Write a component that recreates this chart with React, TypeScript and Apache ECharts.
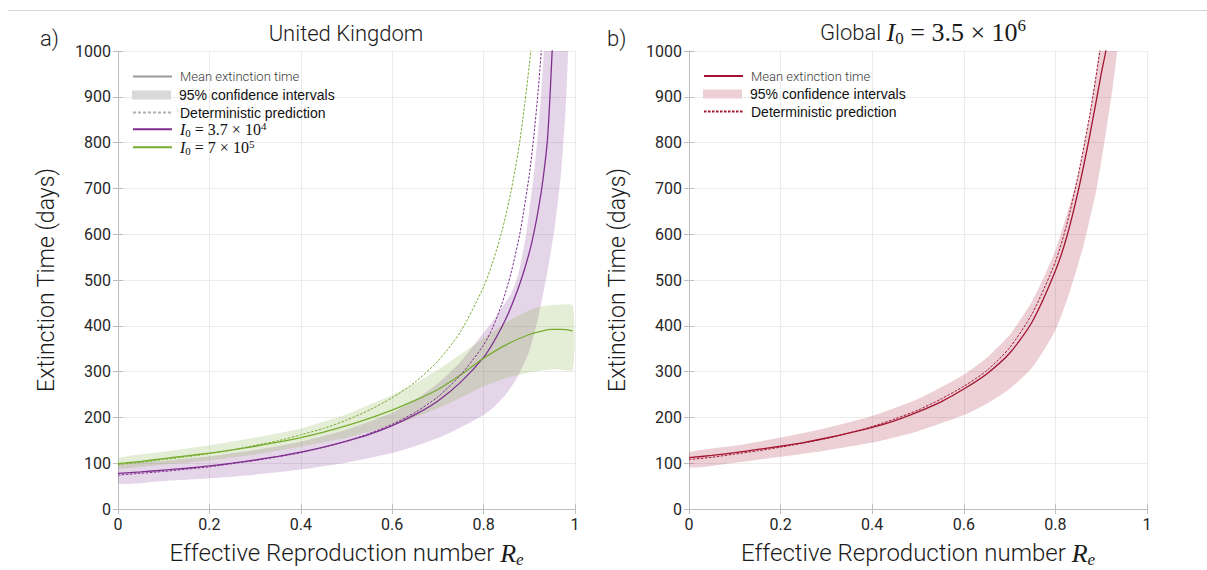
import React, { useEffect, useRef } from "react";
import * as echarts from "echarts";

// ---------- Panel a) United Kingdom ----------
// I0 = 3.7e4 (purple)
const purpleMeanRe = [0, 0.05, 0.1, 0.15, 0.2, 0.25, 0.3, 0.35, 0.4, 0.45, 0.5, 0.55, 0.6, 0.65, 0.7, 0.75, 0.8, 0.825, 0.85, 0.875, 0.89, 0.905, 0.92, 0.93, 0.94, 0.95, 0.96];
const purpleMeanT = [78, 81, 85, 89, 94, 100, 107, 115, 124, 135, 148, 163, 182, 206, 236, 277, 331, 370, 418, 480, 525, 580, 655, 720, 810, 1000, 1250];
const purpleUpRe = [0, 0.1, 0.2, 0.3, 0.4, 0.5, 0.6, 0.65, 0.7, 0.75, 0.8, 0.82, 0.84, 0.86, 0.872, 0.88, 0.893, 0.9, 0.91, 0.917, 0.925, 0.932, 0.94];
const purpleUpT = [97, 105, 115, 129, 147, 173, 210, 238, 274, 322, 385, 410, 440, 470, 500, 530, 600, 650, 730, 800, 890, 1000, 1150];
const purpleLoRe = [0, 0.1, 0.2, 0.3, 0.4, 0.5, 0.6, 0.65, 0.7, 0.75, 0.8, 0.825, 0.85, 0.875, 0.9, 0.92, 0.94, 0.955, 0.97, 0.98, 0.985, 0.99];
const purpleLoT = [56, 61, 67, 75, 86, 101, 122, 137, 155, 178, 205, 225, 252, 290, 345, 420, 520, 610, 740, 880, 1000, 1150];
const purpleDetRe = [0, 0.05, 0.1, 0.15, 0.2, 0.25, 0.3, 0.35, 0.4, 0.45, 0.5, 0.55, 0.6, 0.65, 0.7, 0.75, 0.8, 0.82, 0.84, 0.86, 0.88, 0.9, 0.91, 0.92, 0.93];
const purpleDetT = [74, 78, 82, 87, 92, 99, 106, 114, 123, 135, 148, 165, 185, 211, 245, 293, 358, 396, 448, 515, 605, 730, 815, 920, 1050];

// I0 = 7e5 (green)
const greenMeanRe = [0, 0.05, 0.1, 0.15, 0.2, 0.25, 0.3, 0.35, 0.4, 0.45, 0.5, 0.55, 0.6, 0.65, 0.7, 0.75, 0.8, 0.85, 0.9, 0.93, 0.95, 0.97, 0.995];
const greenMeanT = [99, 104, 110, 116, 122, 129, 137, 146, 156, 168, 182, 198, 216, 237, 261, 293, 329, 359, 381, 389, 392, 392, 389];
const greenUpRe = [0, 0.1, 0.2, 0.3, 0.4, 0.5, 0.6, 0.65, 0.7, 0.75, 0.8, 0.85, 0.9, 0.93, 0.96, 0.995];
const greenUpT = [111, 125, 139, 156, 176, 207, 249, 274, 304, 338, 373, 408, 434, 443, 446, 444];
const greenLoRe = [0, 0.1, 0.2, 0.3, 0.4, 0.5, 0.6, 0.65, 0.7, 0.75, 0.8, 0.85, 0.9, 0.93, 0.96, 0.995];
const greenLoT = [89, 97, 106, 119, 136, 156, 183, 200, 220, 243, 268, 286, 298, 303, 305, 304];
const greenDetRe = [0, 0.05, 0.1, 0.15, 0.2, 0.25, 0.3, 0.35, 0.4, 0.45, 0.5, 0.55, 0.6, 0.65, 0.7, 0.75, 0.8, 0.82, 0.84, 0.86, 0.88, 0.9, 0.91];
const greenDetT = [97, 102, 108, 114, 121, 129, 139, 149, 162, 176, 194, 216, 243, 277, 323, 388, 485, 539, 606, 693, 808, 970, 1078];

// ---------- Panel b) Global I0 = 3.5e6 ----------
const globalMeanRe = [0, 0.05, 0.1, 0.15, 0.2, 0.25, 0.3, 0.35, 0.4, 0.45, 0.5, 0.55, 0.6, 0.65, 0.7, 0.75, 0.8, 0.825, 0.85, 0.875, 0.9, 0.91, 0.92];
const globalMeanT = [112, 117, 123, 130, 137, 145, 155, 166, 178, 193, 212, 234, 262, 295, 340, 410, 520, 595, 695, 815, 950, 1000, 1070];
const globalDetRe = [0, 0.05, 0.1, 0.15, 0.2, 0.25, 0.3, 0.35, 0.4, 0.45, 0.5, 0.55, 0.6, 0.65, 0.7, 0.75, 0.8, 0.825, 0.85, 0.875, 0.9, 0.91];
const globalDetT = [108, 113, 120, 127, 135, 144, 154, 166, 180, 197, 216, 240, 268, 302, 352, 428, 540, 622, 730, 860, 1020, 1110];
const globalUpRe = [0, 0.1, 0.2, 0.3, 0.4, 0.5, 0.6, 0.65, 0.7, 0.75, 0.8, 0.85, 0.875, 0.89, 0.9, 0.91];
const globalUpT = [123, 138, 156, 177, 203, 240, 293, 330, 380, 455, 565, 730, 860, 960, 1040, 1130];
const globalLoRe = [0, 0.1, 0.2, 0.3, 0.4, 0.5, 0.6, 0.65, 0.7, 0.75, 0.8, 0.83, 0.86, 0.89, 0.91, 0.925, 0.935, 0.945];
const globalLoT = [91, 101, 114, 128, 145, 170, 205, 230, 262, 310, 390, 470, 570, 700, 820, 920, 1000, 1100];

// ---------- Axis settings ----------
const xMin = 0;
const xMax = 1;
const xInterval = 0.2;
const yMin = 0;
const yMax = 1000;
const yInterval = 100;

const PURPLE = "#7E2F8E";
const GREEN = "#77AC30";
const CRIMSON = "#A2142F";

const UI = "Roboto";
const SERIF = "Liberation Serif";
const SANS = "Liberation Sans";

const zip = (xs: number[], ys: number[]) => xs.map((x, i) => [x, ys[i]]);

function bandSeries(xi: number, upRe: number[], upT: number[], loRe: number[], loT: number[], color: string) {
  return {
    type: "custom",
    xAxisIndex: xi,
    yAxisIndex: xi,
    clip: true,
    silent: true,
    data: [[0, 0]],
    renderItem: (_p: any, api: any) => {
      const pts: number[][] = [];
      for (let i = 0; i < upRe.length; i++) pts.push(api.coord([upRe[i], upT[i]]));
      for (let i = loRe.length - 1; i >= 0; i--) pts.push(api.coord([loRe[i], loT[i]]));
      return {
        type: "polygon",
        shape: { points: pts, smooth: 0.2 },
        style: { fill: color, opacity: 0.2, stroke: "none" },
      };
    },
  };
}

function lineSeries(name: string, xi: number, re: number[], t: number[], color: string, dashed: boolean) {
  return {
    name,
    type: "line",
    xAxisIndex: xi,
    yAxisIndex: xi,
    data: zip(re, t),
    symbol: "none",
    smooth: 0.25,
    clip: true,
    silent: true,
    lineStyle: { color, width: dashed ? 1 : 1.3, type: dashed ? [2.5, 1.5] : "solid" },
    itemStyle: { color },
  };
}

function dummySeries(name: string, color: string, dashed: boolean) {
  return {
    name,
    type: "line",
    xAxisIndex: 0,
    yAxisIndex: 0,
    data: [],
    symbol: "none",
    lineStyle: { color, width: dashed ? 1 : 2, type: dashed ? [3, 2] : "solid" },
    itemStyle: { color },
  };
}

const AXIS_COLOR = "#bdbdbd";
const GRID_COLOR = "#ebebeb";
const LABEL_COLOR = "#262626";

function axesFor(gridIndex: number) {
  const xBottom = {
    type: "value",
    gridIndex,
    position: "bottom",
    min: xMin,
    max: xMax,
    interval: xInterval,
    axisLine: { show: true, lineStyle: { color: AXIS_COLOR, width: 1 } },
    axisTick: { show: true, inside: true, length: 5, lineStyle: { color: AXIS_COLOR } },
    splitLine: { show: true, lineStyle: { color: GRID_COLOR, width: 1 } },
    axisLabel: { fontFamily: UI, fontSize: 16, color: LABEL_COLOR, margin: 7, formatter: (v: number) => String(Math.round(v * 10) / 10) },
    name: "{t|Effective Reproduction number }{m|R}{s|e}",
    nameLocation: "middle",
    nameGap: 29,
    nameTextStyle: {
      color: "#1a1a1a",
      rich: {
        t: { fontFamily: UI, fontWeight: 300, fontSize: 24, color: "#1a1a1a", lineHeight: 30 },
        m: { fontFamily: SERIF, fontStyle: "italic", fontSize: 26, color: "#1a1a1a", lineHeight: 30 },
        s: { fontFamily: SERIF, fontStyle: "italic", fontSize: 17, color: "#1a1a1a", lineHeight: 17, verticalAlign: "bottom" },
      },
    },
  };
  const xTop = {
    type: "value",
    gridIndex,
    position: "top",
    min: xMin,
    max: xMax,
    interval: xInterval,
    axisLine: { show: true, lineStyle: { color: AXIS_COLOR, width: 1 } },
    axisTick: { show: true, inside: true, length: 5, lineStyle: { color: AXIS_COLOR } },
    splitLine: { show: false },
    axisLabel: { show: false },
  };
  const yLeft = {
    type: "value",
    gridIndex,
    position: "left",
    min: yMin,
    max: yMax,
    interval: yInterval,
    axisLine: { show: true, lineStyle: { color: AXIS_COLOR, width: 1 } },
    axisTick: { show: true, inside: true, length: 5, lineStyle: { color: AXIS_COLOR } },
    splitLine: { show: true, lineStyle: { color: GRID_COLOR, width: 1 } },
    axisLabel: { fontFamily: UI, fontSize: 16, color: LABEL_COLOR, margin: 7, formatter: (v: number) => String(v) },
    name: "Extinction Time (days)",
    nameLocation: "middle",
    nameGap: 60,
    nameTextStyle: { fontFamily: UI, fontWeight: 300, fontSize: 23, color: "#1a1a1a" },
  };
  const yRight = {
    type: "value",
    gridIndex,
    position: "right",
    min: yMin,
    max: yMax,
    interval: yInterval,
    axisLine: { show: true, lineStyle: { color: AXIS_COLOR, width: 1 } },
    axisTick: { show: true, inside: true, length: 5, lineStyle: { color: AXIS_COLOR } },
    splitLine: { show: false },
    axisLabel: { show: false },
  };
  return { xs: [xBottom, xTop], ys: [yLeft, yRight] };
}

const legendRich = {
  u: { fontFamily: UI, fontWeight: 300, fontSize: 13, color: "#3a3a3a", lineHeight: 18, padding: [0, 0, 0, 3] },
  a: { fontFamily: SANS, fontSize: 14, color: "#111", lineHeight: 18, padding: [0, 0, 0, 3] },
  m: { fontFamily: SERIF, fontStyle: "italic", fontSize: 16, color: "#111", lineHeight: 18, padding: [0, 0, 0, 3] },
  s: { fontFamily: SERIF, fontSize: 11, color: "#111", lineHeight: 11, verticalAlign: "bottom" },
  e: { fontFamily: SERIF, fontSize: 16, color: "#111", lineHeight: 18 },
  p: { fontFamily: SERIF, fontSize: 11, color: "#111", lineHeight: 11, verticalAlign: "top" },
};

function legendItem(name: string, label: string, left: number, cy: number, extra: any = {}, lineWidth?: number) {
  const l: any = {
    show: true,
    selectedMode: false,
    orient: "vertical",
    left,
    top: cy - 9,
    padding: 0,
    itemWidth: 39,
    itemHeight: 9,
    data: [{ name, ...extra }],
    formatter: () => label,
    textStyle: { rich: legendRich },
    itemStyle: { color: "transparent", borderColor: "transparent", borderWidth: 0 },
  };
  if (lineWidth) l.lineStyle = { width: lineWidth };
  return l;
}

export default function App() {
  const ref = useRef<HTMLDivElement>(null);

  useEffect(() => {
    if (!ref.current) return;
    const chart = echarts.init(ref.current, undefined, { renderer: "svg" });

    const a = axesFor(0);
    const b = axesFor(1);

    const option: any = {
      animation: false,
      backgroundColor: "#ffffff",
      grid: [
        { left: 118, top: 51, width: 457, height: 458, containLabel: false, outerBoundsMode: "none" },
        { left: 689, top: 51, width: 458, height: 458, containLabel: false, outerBoundsMode: "none" },
      ],
      xAxis: [...a.xs, ...b.xs],
      yAxis: [...a.ys, ...b.ys],
      legend: [
        legendItem("leg_mean", "{u|Mean extinction time}", 132, 79),
        legendItem("leg_ci", "{a|95% confidence intervals}", 132, 97, { icon: "rect", itemStyle: { color: "#d9d9d9", borderWidth: 0 } }),
        legendItem("leg_det", "{a|Deterministic prediction}", 132, 114.5),
        legendItem("p_mean", "{m|I}{s|0}{e| = 3.7 × 10}{p|4}", 132, 129.3, {}, 2),
        legendItem("g_mean", "{m|I}{s|0}{e| = 7 × 10}{p|5}", 132, 147.3, {}, 2),
        legendItem("b_mean", "{u|Mean extinction time}", 703, 78.5, {}, 2),
        legendItem("b_ci", "{a|95% confidence intervals}", 703, 96, { icon: "rect", itemStyle: { color: "#ecd0d5", borderWidth: 0 } }),
        legendItem("b_det", "{a|Deterministic prediction}", 703, 113.5),
      ],
      series: [
        bandSeries(0, purpleUpRe, purpleUpT, purpleLoRe, purpleLoT, PURPLE),
        bandSeries(0, greenUpRe, greenUpT, greenLoRe, greenLoT, GREEN),
        lineSeries("p_mean", 0, purpleMeanRe, purpleMeanT, PURPLE, false),
        lineSeries("g_mean", 0, greenMeanRe, greenMeanT, GREEN, false),
        lineSeries("p_det", 0, purpleDetRe, purpleDetT, PURPLE, true),
        lineSeries("g_det", 0, greenDetRe, greenDetT, GREEN, true),
        dummySeries("leg_mean", "#9a9a9a", false),
        dummySeries("leg_ci", "#d9d9d9", false),
        dummySeries("leg_det", "#b0b0b0", true),
        bandSeries(2, globalUpRe, globalUpT, globalLoRe, globalLoT, CRIMSON),
        lineSeries("b_mean", 2, globalMeanRe, globalMeanT, CRIMSON, false),
        lineSeries("b_det", 2, globalDetRe, globalDetT, CRIMSON, true),
        dummySeries("b_ci", "#ecd0d5", false),
      ],
      graphic: [
        { type: "line", shape: { x1: 8, y1: 10.5, x2: 1207, y2: 10.5 }, style: { stroke: "#d4d4d4", lineWidth: 1 }, silent: true },
        {
          type: "text", x: 40, y: 38, silent: true,
          style: { text: "a)", fontFamily: UI, fontWeight: 300, fontSize: 22, fill: "#1a1a1a", align: "left", verticalAlign: "middle" },
        },
        {
          type: "text", x: 607, y: 38, silent: true,
          style: { text: "b)", fontFamily: UI, fontWeight: 300, fontSize: 22, fill: "#1a1a1a", align: "left", verticalAlign: "middle" },
        },
        {
          type: "text", x: 346, y: 33, silent: true,
          style: { text: "United Kingdom", fontFamily: UI, fontWeight: 300, fontSize: 22, fill: "#1a1a1a", align: "center", verticalAlign: "middle" },
        },
        {
          type: "text", x: 923, y: 32, silent: true,
          style: {
            text: "{t|Global }{m|I}{s|0}{e| = 3.5 × 10}{p|6}",
            align: "center",
            verticalAlign: "middle",
            fill: "#1a1a1a",
            rich: {
              t: { fontFamily: UI, fontWeight: 300, fontSize: 22, fill: "#1a1a1a", lineHeight: 30 },
              m: { fontFamily: SERIF, fontStyle: "italic", fontSize: 26, fill: "#1a1a1a", lineHeight: 30 },
              s: { fontFamily: SERIF, fontSize: 17, fill: "#1a1a1a", lineHeight: 17, verticalAlign: "bottom" },
              e: { fontFamily: SERIF, fontSize: 26, fill: "#1a1a1a", lineHeight: 30 },
              p: { fontFamily: SERIF, fontSize: 17, fill: "#1a1a1a", lineHeight: 17, verticalAlign: "top" },
            },
          },
        },
      ],
    };

    chart.setOption(option);
    return () => chart.dispose();
  }, []);

  return <div ref={ref} style={{ position: "fixed", left: 0, top: 0, width: 1207, height: 570 }} />;
}
